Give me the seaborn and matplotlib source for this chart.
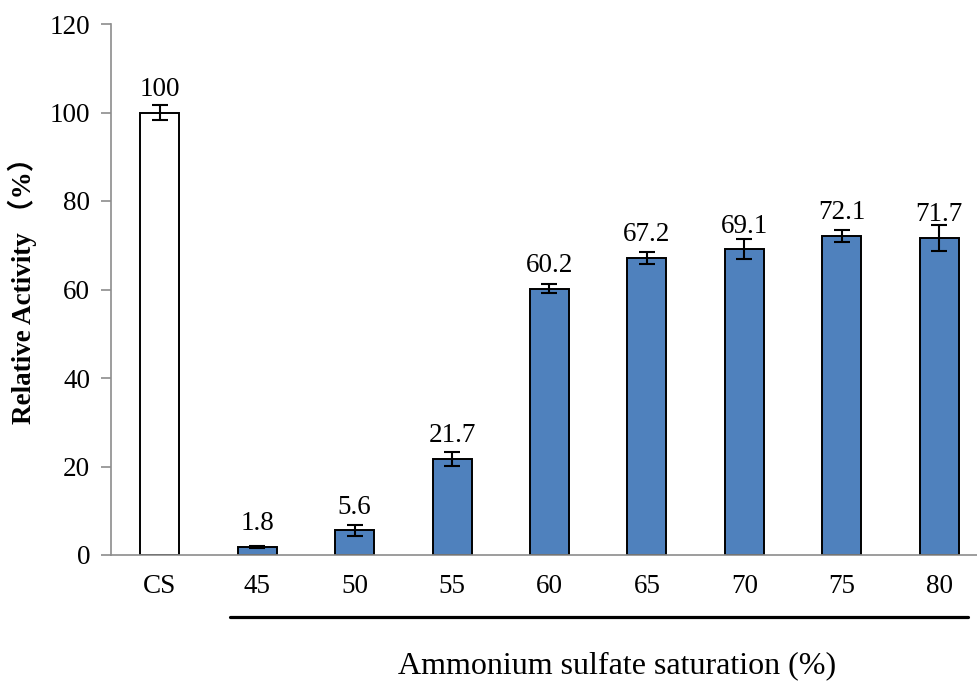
import matplotlib
matplotlib.use("Agg")
import matplotlib.pyplot as plt
import matplotlib.transforms as mtransforms
import seaborn as sns
import pandas as pd

# Relative activity per ammonium sulfate saturation level (CS = crude sample)
categories = ["CS", "45", "50", "55", "60", "65", "70", "75", "80"]
activity = [100, 1.8, 5.6, 21.7, 60.2, 67.2, 69.1, 72.1, 71.7]
errors = [1.6, 0.3, 1.2, 1.5, 0.95, 1.35, 2.25, 1.4, 2.9]
y_ticks = [0, 20, 40, 60, 80, 100, 120]

sns.set_theme(style="white")
plt.rcParams["font.family"] = ["Liberation Serif", "Noto Sans CJK SC"]
plt.rcParams["text.color"] = "black"
plt.rcParams["axes.labelcolor"] = "black"

W, H = 978, 681
fig = plt.figure(figsize=(W / 100, H / 100), dpi=100)
left, right, top, bottom = 111, 988, 24, 555
ax = fig.add_axes([left / W, (H - bottom) / H, (right - left) / W, (bottom - top) / H])

df = pd.DataFrame({"cat": categories, "val": activity})
colors = ["white"] + ["#4F81BD"] * (len(categories) - 1)
sns.barplot(data=df, x="cat", y="val", hue="cat", palette=colors, legend=False,
            edgecolor="black", linewidth=1.4, width=0.4, saturation=1, ax=ax, errorbar=None)

ax.errorbar(range(len(categories)), activity, yerr=errors, fmt="none",
            ecolor="black", elinewidth=1.5, capsize=5.5, capthick=1.5, zorder=5)

for i, v in enumerate(activity):
    ax.annotate(f"{v:g}", xy=(i, v), xytext=(0, 12), textcoords="offset points",
                ha="center", va="baseline", fontsize=19.5, color="black")

ax.set_xlim(-0.5, len(categories) - 0.5)
ax.set_ylim(0, 120)
ax.set_yticks(y_ticks)
ax.set_yticklabels([str(t) for t in y_ticks], fontsize=19.5)

# major ticks between categories, labels centred on bars
ax.set_xticks([i - 0.5 for i in range(len(categories) + 1)])
ax.set_xticklabels([])
ax.set_xticks(range(len(categories)), minor=True)
ax.set_xticklabels(categories, minor=True, fontsize=19.5)
ax.tick_params(axis="x", which="minor", length=0, pad=14, labelcolor="black")
ax.tick_params(axis="x", which="major", length=7, width=1.2, color="#8c8c8c", direction="out")
ax.tick_params(axis="y", length=7, width=1.2, color="#8c8c8c", direction="out", pad=8,
               left=True, labelcolor="black")

for s in ["top", "right"]:
    ax.spines[s].set_visible(False)
for s in ["left", "bottom"]:
    ax.spines[s].set_color("#8c8c8c")
    ax.spines[s].set_linewidth(1.2)

ax.set_xlabel("")
ax.set_ylabel("")
fig.text(22 / W, 1 - 284 / H, "Relative Activity （%）", rotation=90, ha="center", va="center",
         fontsize=19.5, fontweight="bold")

# bracket line under the saturation levels
trans = mtransforms.blended_transform_factory(ax.transData, ax.transAxes)
ax.plot([0.72, 8.29], [-0.117, -0.117], color="black", lw=2.3, transform=trans, clip_on=False)

fig.text(617 / W, 1 - 666 / H, "Ammonium sulfate saturation (%)", ha="center", va="center", fontsize=23)

fig.savefig("out.png", dpi=100)
